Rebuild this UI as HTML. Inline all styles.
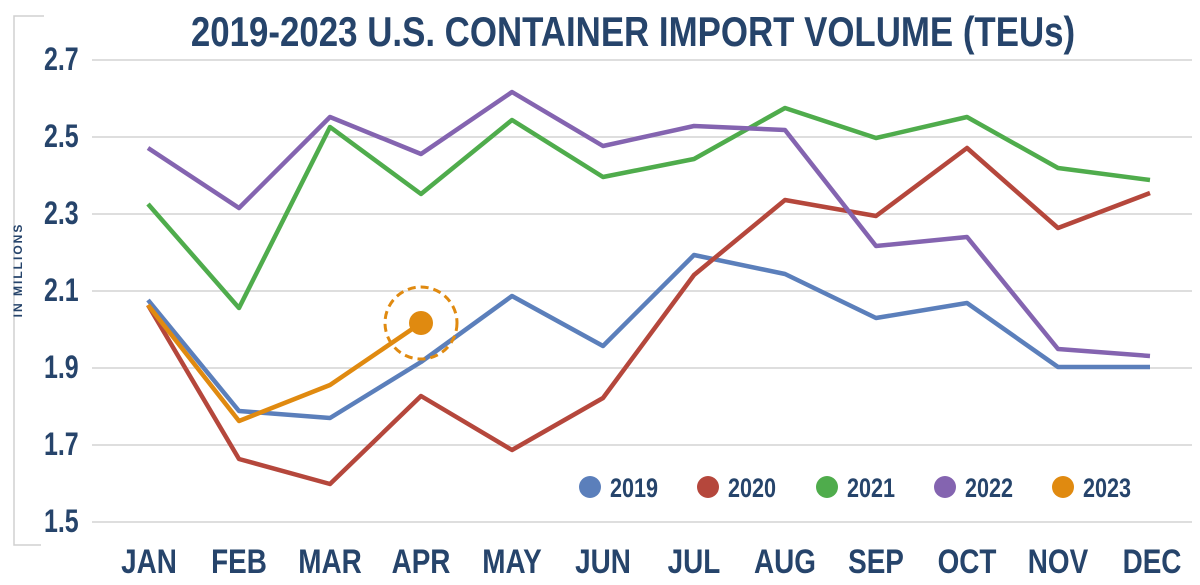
<!DOCTYPE html>
<html><head><style>
body{margin:0;background:#fff;}
svg text{font-family:"Liberation Sans",sans-serif;font-weight:bold;fill:#26446b;}
</style></head><body>
<svg width="1200" height="580" viewBox="0 0 1200 580" xmlns="http://www.w3.org/2000/svg">
<path d="M44 16 H14 V545 H41" fill="none" stroke="#d0d0d0" stroke-width="1.5"/>
<text transform="translate(633,46) scale(0.83,1)" font-size="42" text-anchor="middle">2019-2023 U.S. CONTAINER IMPORT VOLUME (TEUs)</text>
<g stroke="#d4d4d4" stroke-width="1.5">
<line x1="92" x2="1192" y1="60" y2="60"/><line x1="92" x2="1192" y1="137" y2="137"/>
<line x1="92" x2="1192" y1="214" y2="214"/><line x1="92" x2="1192" y1="291" y2="291"/>
<line x1="92" x2="1192" y1="368" y2="368"/><line x1="92" x2="1192" y1="445" y2="445"/>
<line x1="92" x2="1192" y1="522" y2="522"/>
</g>
<g font-size="32">
<text transform="translate(44,70) scale(0.78,1)">2.7</text>
<text transform="translate(44,147) scale(0.78,1)">2.5</text>
<text transform="translate(44,224) scale(0.78,1)">2.3</text>
<text transform="translate(44,301) scale(0.78,1)">2.1</text>
<text transform="translate(44,378) scale(0.78,1)">1.9</text>
<text transform="translate(44,455) scale(0.78,1)">1.7</text>
<text transform="translate(44,532) scale(0.78,1)">1.5</text>
</g>
<text transform="translate(22,270) rotate(-90)" font-size="12" text-anchor="middle" letter-spacing="2">IN MILLIONS</text>
<g font-size="34" text-anchor="middle">
<text transform="translate(149,573) scale(0.82,1)">JAN</text>
<text transform="translate(239,573) scale(0.82,1)">FEB</text>
<text transform="translate(330,573) scale(0.82,1)">MAR</text>
<text transform="translate(421,573) scale(0.82,1)">APR</text>
<text transform="translate(512,573) scale(0.82,1)">MAY</text>
<text transform="translate(603,573) scale(0.82,1)">JUN</text>
<text transform="translate(694,573) scale(0.82,1)">JUL</text>
<text transform="translate(785,573) scale(0.82,1)">AUG</text>
<text transform="translate(876,573) scale(0.82,1)">SEP</text>
<text transform="translate(967,573) scale(0.82,1)">OCT</text>
<text transform="translate(1058,573) scale(0.82,1)">NOV</text>
<text transform="translate(1152,573) scale(0.82,1)">DEC</text>
</g>
<g fill="none" stroke-width="4.5" stroke-linejoin="round">
<polyline stroke="#5b7fbb" points="148,300 239,411 330,418 421,362 512,296 603,346 694,255 785,274 876,318 967,303 1058,367 1150,367"/>
<polyline stroke="#b5473c" points="148,305 239,459 330,484 421,396 512,450 603,398 694,275 785,200 876,216 967,148 1058,228 1150,193"/>
<polyline stroke="#4fac4c" points="148,204 239,308 330,127 421,194 512,120 603,177 694,159 785,108 876,138 967,117 1058,168 1150,180"/>
<polyline stroke="#8464b0" points="148,148 239,208 330,117 421,154 512,92 603,146 694,126 785,130 876,246 967,237 1058,349 1150,356"/>
<polyline stroke="#e08a10" points="148,305 239,421 330,385 421,323"/>
</g>
<circle cx="421" cy="323" r="12" fill="#e08a10"/>
<circle cx="421" cy="323" r="36" fill="none" stroke="#e08a10" stroke-width="3" stroke-dasharray="8,5"/>
<g font-size="27">
<circle cx="590" cy="487" r="11" fill="#5b7fbb"/><text transform="translate(610,497) scale(0.8,1)">2019</text>
<circle cx="708" cy="487" r="11" fill="#b5473c"/><text transform="translate(728,497) scale(0.8,1)">2020</text>
<circle cx="827" cy="487" r="11" fill="#4fac4c"/><text transform="translate(847,497) scale(0.8,1)">2021</text>
<circle cx="945" cy="487" r="11" fill="#8464b0"/><text transform="translate(965,497) scale(0.8,1)">2022</text>
<circle cx="1063" cy="487" r="11" fill="#e08a10"/><text transform="translate(1083,497) scale(0.8,1)">2023</text>
</g>
</svg>
</body></html>
